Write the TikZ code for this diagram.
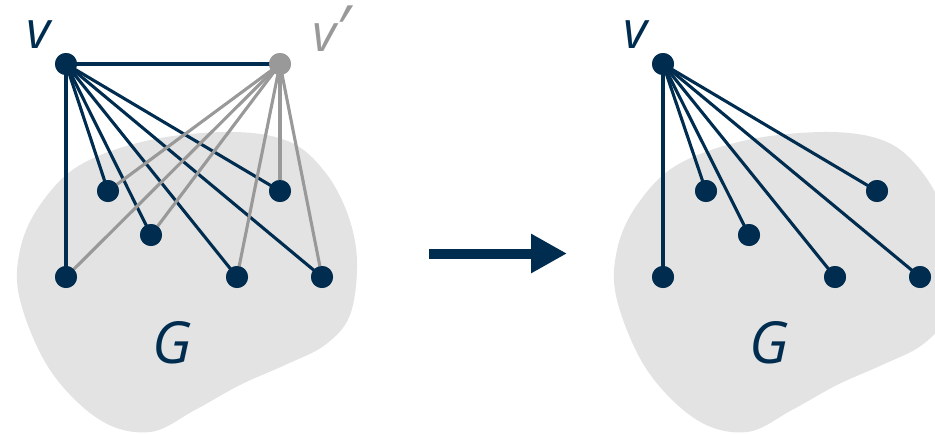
\documentclass[tikz,border=0pt]{standalone}
\usepackage{fontspec}
\setmainfont{Open Sans}
\usetikzlibrary{arrows.meta}
\definecolor{navy}{HTML}{002D4F}
\definecolor{lgray}{HTML}{999999}
\definecolor{blobc}{HTML}{E3E3E3}
\tikzset{
  dot/.style={circle,fill=navy,inner sep=0pt,minimum size=22pt},
  gdot/.style={circle,fill=lgray,inner sep=0pt,minimum size=22pt},
  dedge/.style={draw=navy,line width=3.1pt},
  gedge/.style={draw=lgray,line width=3.1pt},
  lbl/.style={inner sep=0pt,text=navy,anchor=base},
  vfont/.style={font=\itshape\fontsize{52}{52}\selectfont},
  gfont/.style={font=\itshape\fontsize{58}{58}\selectfont},
}
\newcommand{\blobpath}{plot[smooth cycle,tension=0.6] coordinates {(233,132) (290,142) (325,172) (348,215) (357,262) (350,315) (325,345) (285,365) (240,385) (195,410) (150,432) (100,420) (50,370) (20,300) (20,250) (40,205) (80,165) (150,140)}}
\begin{document}
\begin{tikzpicture}[x=1pt,y=-1pt]
\useasboundingbox (0,0) rectangle (935,434);
\clip (0,0) rectangle (935,434);
% blobs
\fill[blobc] \blobpath;
\begin{scope}[xshift=597pt]
\fill[blobc] \blobpath;
\end{scope}
% left graph
\node[dot] (v) at (66,64) {};
\node[gdot] (vp) at (280,64) {};
\node[dot] (a) at (108,191) {};
\node[dot] (b) at (151,235) {};
\node[dot] (c) at (66,277) {};
\node[dot] (d) at (237,277) {};
\node[dot] (e) at (280,191) {};
\node[dot] (f) at (322,277) {};
\foreach \n in {vp,a,b,c,d,e,f} \path[dedge] (v.center) -- (\n.center);
\foreach \n in {a,b,c,d,e,f} \path[gedge] (vp.center) -- (\n.center);
\foreach \n in {a,b,c,d,e,f} \node[dot] at (\n) {};
\node[dot] at (v) {};
\node[gdot] at (vp) {};
\node[lbl,vfont] (lv) at (38,48) {v};
\node[lbl,vfont,text=lgray] (lvp) at (331,51) {v\kern-1pt{\fontsize{64}{64}\selectfont ′}};
\node[lbl,gfont] (lg) at (172,363) {G};
% right graph
\node[dot] (w) at (663,64) {};
\node[dot] (ra) at (706,191) {};
\node[dot] (rb) at (749,235) {};
\node[dot] (rc) at (663,277) {};
\node[dot] (rd) at (835,277) {};
\node[dot] (re) at (877,191) {};
\node[dot] (rf) at (920,277) {};
\foreach \n in {ra,rb,rc,rd,re,rf} \path[dedge] (w.center) -- (\n.center);
\foreach \n in {ra,rb,rc,rd,re,rf} \node[dot] at (\n) {};
\node[dot] at (w) {};
\node[lbl,vfont] (lw) at (635,48) {v};
\node[lbl,gfont] (lg2) at (769,363) {G};
% arrow
\coordinate (as) at (429,253.5);
\coordinate (ae) at (567,253.5);
\draw[navy,line width=10pt,-{Triangle[length=36pt,width=37pt]}] (as) -- (ae);
\end{tikzpicture}
\end{document}
